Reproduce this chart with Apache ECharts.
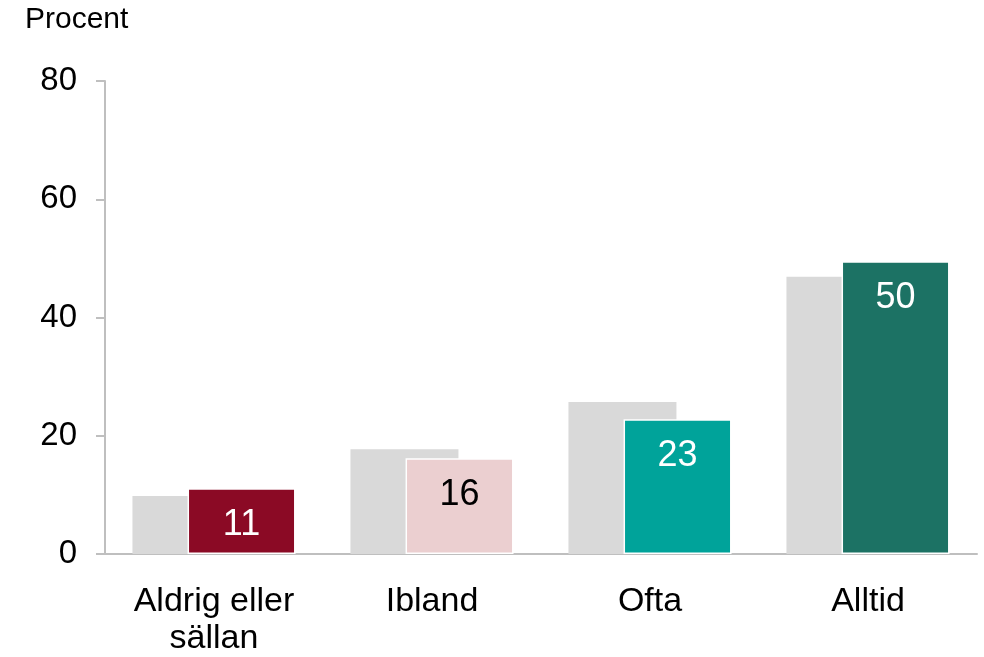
<!DOCTYPE html>
<html>
<head>
<meta charset="utf-8">
<script src="https://cdn.jsdelivr.net/npm/echarts@6/dist/echarts.min.js"></script>
<style>
  html, body { margin: 0; padding: 0; background: #fff; }
  #chart { width: 984px; height: 657px; }
</style>
</head>
<body>
<div id="chart"></div>
<script>
// data
const categories = ['Aldrig eller\nsällan', 'Ibland', 'Ofta', 'Alltid']
const previous = [9.8, 17.7, 25.7, 46.9]
const current = [11.1, 16.2, 22.8, 49.5]
const currentLabels = ['11', '16', '23', '50']
const barColors = ['#8B0A25', '#EBCFD0', '#00A39A', '#1C7264']
const labelColors = ['#ffffff', '#000000', '#ffffff', '#ffffff']
const yTicks = { min: 0, max: 80, interval: 20 }

const font = 'Liberation Sans'

const chart = echarts.init(document.getElementById('chart'))

const option = {
  backgroundColor: '#ffffff',
  animation: false,
  graphic: [{
    type: 'text',
    left: 25,
    top: 5,
    style: { text: 'Procent', font: '30px "' + font + '"', fill: '#000' }
  }],
  grid: {
    left: 105,
    right: 7,
    top: 81,
    bottom: 103
  },
  xAxis: {
    type: 'category',
    data: categories,
    axisLine: { lineStyle: { color: '#BFBFBF', width: 2 } },
    axisTick: { show: false },
    axisLabel: {
      color: '#000',
      fontFamily: font,
      fontSize: 34,
      lineHeight: 37,
      margin: 29
    }
  },
  yAxis: {
    type: 'value',
    min: yTicks.min,
    max: yTicks.max,
    interval: yTicks.interval,
    splitLine: { show: false },
    axisLine: { show: true, lineStyle: { color: '#BFBFBF', width: 2 } },
    axisTick: { show: true, length: 9, lineStyle: { color: '#BFBFBF', width: 2 } },
    axisLabel: {
      color: '#000',
      fontFamily: font,
      fontSize: 33,
      margin: 28
    }
  },
  series: [
    {
      type: 'bar',
      data: previous,
      barWidth: 108,
      barGap: '-49%',
      itemStyle: { color: '#D9D9D9' },
      z: 1
    },
    {
      type: 'bar',
      data: current.map(function (v, i) {
        return {
          value: v,
          itemStyle: { color: barColors[i] },
          label: { color: labelColors[i], formatter: currentLabels[i] }
        }
      }),
      barWidth: 108,
      itemStyle: { borderColor: '#ffffff', borderWidth: 1.5 },
      label: {
        show: true,
        position: 'insideTop',
        distance: 19,
        fontFamily: font,
        fontSize: 36
      },
      z: 2
    }
  ]
}

chart.setOption(option)
</script>
</body>
</html>
